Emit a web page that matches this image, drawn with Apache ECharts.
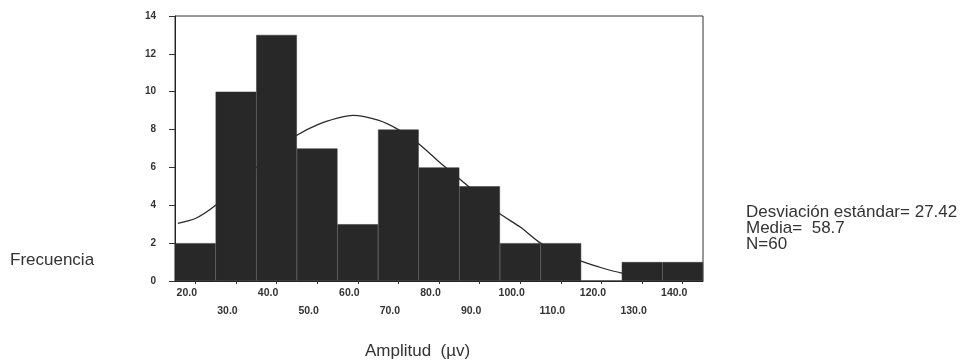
<!DOCTYPE html>
<html>
<head>
<meta charset="utf-8">
<script src="https://cdn.jsdelivr.net/npm/echarts@6/dist/echarts.min.js"></script>
<style>
html,body{margin:0;padding:0;background:#fff;}
#chart{width:962px;height:364px;}
</style>
</head>
<body>
<div id="chart"></div>
<script>
// Histogram bins (bin centres) and counts
const categories = ['20.0','30.0','40.0','50.0','60.0','70.0','80.0','90.0','100.0','110.0','120.0','130.0','140.0'];
const frequencies = [2, 10, 13, 7, 3, 8, 6, 5, 2, 2, 0, 1, 1];
// Fitted normal curve
const curveX = [15.7, 20, 25, 30, 35, 40, 45, 50, 55, 58.8, 65, 70, 75, 80, 85, 90, 95, 100, 105, 110, 115, 120, 125, 130];
const curveY = [3.05, 3.3, 4.0, 5.0, 6.0, 6.9, 7.7, 8.25, 8.6, 8.75, 8.5, 8.0, 7.25, 6.3, 5.4, 4.5, 3.55, 2.85, 2.0, 1.45, 1.05, 0.7, 0.42, 0.25];
const yTicks = [0, 2, 4, 6, 8, 10, 12, 14];
const statsLines = ['Desviación estándar= 27.42', 'Media=  58.7', 'N=60'];
const yTitle = 'Frecuencia';
const xTitle = 'Amplitud  (µv)';

const FONT = '"Liberation Sans", Arial, sans-serif';
const chart = echarts.init(document.getElementById('chart'), null, {renderer: 'canvas'});

const option = {
  backgroundColor: '#ffffff',
  animation: false,
  grid: {
    left: 175, right: 259, top: 16, bottom: 83,
    show: true, borderColor: '#333', borderWidth: 1, backgroundColor: 'transparent'
  },
  xAxis: [
    {
      type: 'category',
      data: categories,
      boundaryGap: true,
      axisLine: {show: true, lineStyle: {color: '#222', width: 1}},
      axisTick: {show: true, alignWithLabel: true, length: 3, lineStyle: {color: '#333'}},
      axisLabel: {
        interval: 0,
        margin: 3,
        fontFamily: FONT,
        fontSize: 10.5,
        fontWeight: 'bold',
        color: '#333',
        lineHeight: 18,
        padding: [0, 17, 0, 0],
        formatter: function (v, i) { return i % 2 === 0 ? v : '\n' + v; }
      },
      splitLine: {show: false}
    },
    {
      type: 'value',
      min: 15, max: 145,
      show: false,
      splitLine: {show: false}
    }
  ],
  yAxis: {
    type: 'value',
    min: yTicks[0],
    max: yTicks[yTicks.length - 1],
    interval: 2,
    axisLine: {show: true, lineStyle: {color: '#222', width: 1}},
    axisTick: {show: true, length: 6, lineStyle: {color: '#333'}},
    axisLabel: {
      margin: 19,
      fontFamily: FONT,
      fontSize: 10,
      fontWeight: 'bold',
      color: '#333'
    },
    splitLine: {show: false}
  },
  series: [
    {
      type: 'line',
      xAxisIndex: 1,
      data: curveX.map((x, i) => [x, curveY[i]]),
      smooth: 0.25,
      showSymbol: false,
      lineStyle: {color: '#2a2a2a', width: 1.3},
      z: 1
    },
    {
      type: 'bar',
      xAxisIndex: 0,
      data: frequencies,
      barCategoryGap: '0%',
      itemStyle: {color: '#282828', borderColor: '#333333', borderWidth: 0.5},
      z: 2
    }
  ],
  graphic: [
    {
      type: 'text', left: 10, top: 252,
      style: {text: yTitle, font: '17px ' + FONT, fill: '#333'}
    },
    {
      type: 'text', left: 365, top: 343,
      style: {text: xTitle, font: '17px ' + FONT, fill: '#333'}
    },
    {
      type: 'text', left: 746, top: 204,
      style: {text: statsLines.join('\n'), font: '17px ' + FONT, fill: '#333', lineHeight: 16}
    }
  ]
};
chart.setOption(option);
</script>
</body>
</html>
